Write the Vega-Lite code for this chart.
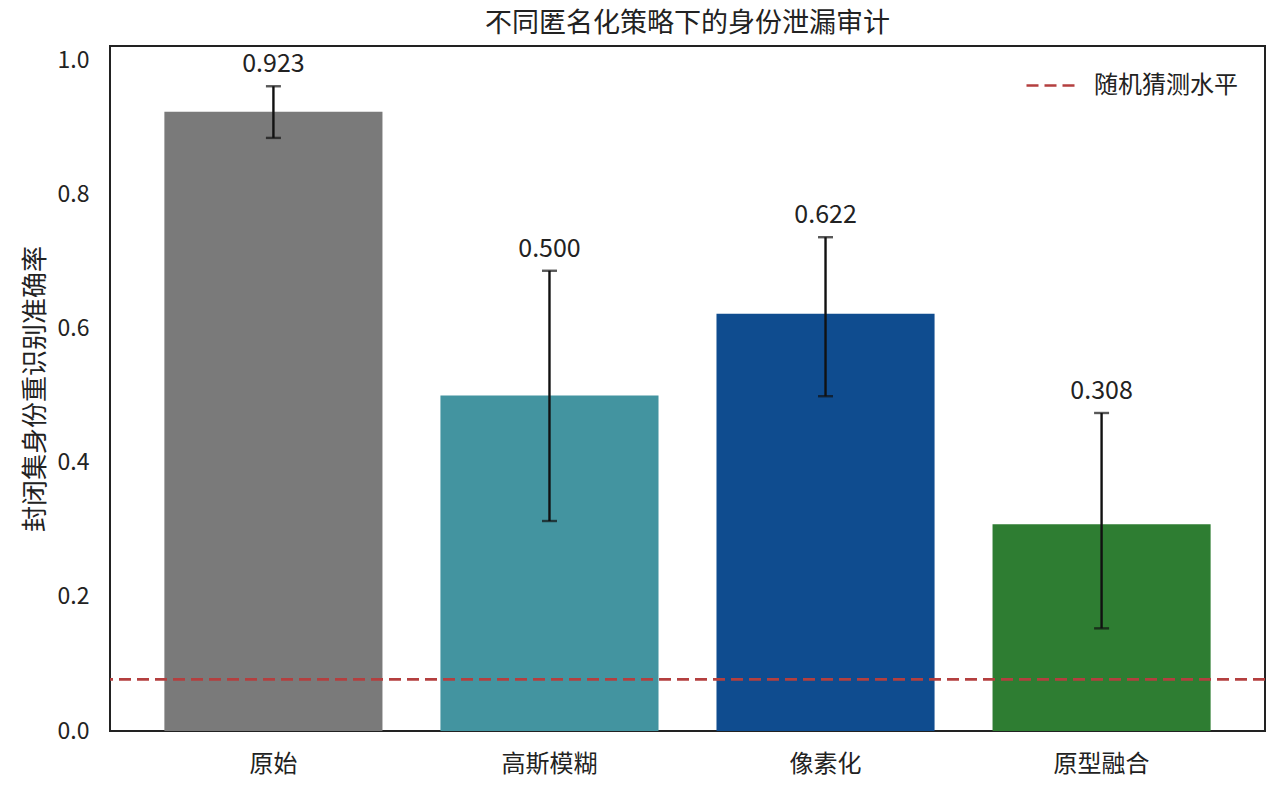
{
  "$schema": "https://vega.github.io/schema/vega-lite/v6.json",
  "autosize": {"type": "none"},
  "padding": {"left": 110, "top": 46, "right": 15, "bottom": 56},
  "width": 1155,
  "height": 685,
  "background": "white",
  "config": {
    "font": "Noto Sans CJK SC",
    "view": {"stroke": "#222222", "strokeWidth": 2},
    "axis": {"labelFont": "Noto Sans CJK SC", "titleFont": "Noto Sans CJK SC", "labelColor": "#222222", "titleColor": "#222222"}
  },
  "title": {
    "text": "不同匿名化策略下的身份泄漏审计",
    "fontSize": 27,
    "fontWeight": "normal",
    "color": "#222222",
    "offset": 8,
    "font": "Noto Sans CJK SC"
  },
  "data": {
    "values": [
      {"strategy": "原始", "acc": 0.923, "lo": 0.884, "hi": 0.961, "label": "0.923"},
      {"strategy": "高斯模糊", "acc": 0.500, "lo": 0.313, "hi": 0.686, "label": "0.500"},
      {"strategy": "像素化", "acc": 0.622, "lo": 0.499, "hi": 0.736, "label": "0.622"},
      {"strategy": "原型融合", "acc": 0.308, "lo": 0.153, "hi": 0.474, "label": "0.308"}
    ]
  },
  "encoding": {
    "x": {
      "field": "strategy",
      "type": "nominal",
      "sort": null,
      "scale": {"paddingInner": 0.21, "paddingOuter": 0.197},
      "axis": {"title": null, "labelAngle": 0, "ticks": false, "domain": false, "labelFontSize": 24, "labelPadding": 21}
    }
  },
  "layer": [
    {
      "mark": {"type": "bar"},
      "encoding": {
        "y": {
          "field": "acc",
          "type": "quantitative",
          "scale": {"domain": [0, 1.021], "nice": false, "zero": true},
          "axis": {
            "title": "封闭集身份重识别准确率",
            "titleFontSize": 26,
            "titleFontWeight": "normal",
            "titlePadding": 9,
            "values": [0, 0.2, 0.4, 0.6, 0.8, 1.0],
            "format": ".1f",
            "grid": false,
            "ticks": false,
            "domain": false,
            "labelFontSize": 23,
            "labelPadding": 21
          }
        },
        "color": {
          "field": "strategy",
          "type": "nominal",
          "scale": {
            "domain": ["原始", "高斯模糊", "像素化", "原型融合"],
            "range": ["#7a7a7a", "#4394a0", "#0f4c8f", "#2e7d32"]
          },
          "legend": null
        }
      }
    },
    {
      "mark": {"type": "rule", "color": "#111111", "strokeWidth": 2.4},
      "encoding": {
        "y": {"field": "lo", "type": "quantitative"},
        "y2": {"field": "hi"}
      }
    },
    {
      "mark": {"type": "tick", "color": "#111111", "thickness": 2.4, "size": 15},
      "encoding": {"y": {"field": "lo", "type": "quantitative"}}
    },
    {
      "mark": {"type": "tick", "color": "#111111", "thickness": 2.4, "size": 15},
      "encoding": {"y": {"field": "hi", "type": "quantitative"}}
    },
    {
      "mark": {"type": "text", "fontSize": 25, "color": "#222222", "baseline": "alphabetic", "dy": -14},
      "encoding": {
        "y": {"field": "hi", "type": "quantitative"},
        "text": {"field": "label"}
      }
    },
    {
      "data": {"values": [{"level": 0.0769, "name": "随机猜测水平"}]},
      "mark": {"type": "rule", "color": "#b43f3f", "strokeWidth": 2.6},
      "encoding": {
        "x": null,
        "y": {"field": "level", "type": "quantitative"},
        "strokeDash": {
          "field": "name",
          "type": "nominal",
          "scale": {"range": [[12, 6]]},
          "legend": {
            "title": null,
            "orient": "none",
            "legendX": 915,
            "legendY": 14,
            "symbolType": "stroke",
            "symbolSize": 2304,
            "symbolStrokeColor": "#b43f3f",
            "symbolStrokeWidth": 2.6,
            "labelFontSize": 24,
            "labelColor": "#222222",
            "labelFont": "Noto Sans CJK SC",
            "labelOffset": 18,
            "padding": 0
          }
        }
      }
    }
  ]
}
